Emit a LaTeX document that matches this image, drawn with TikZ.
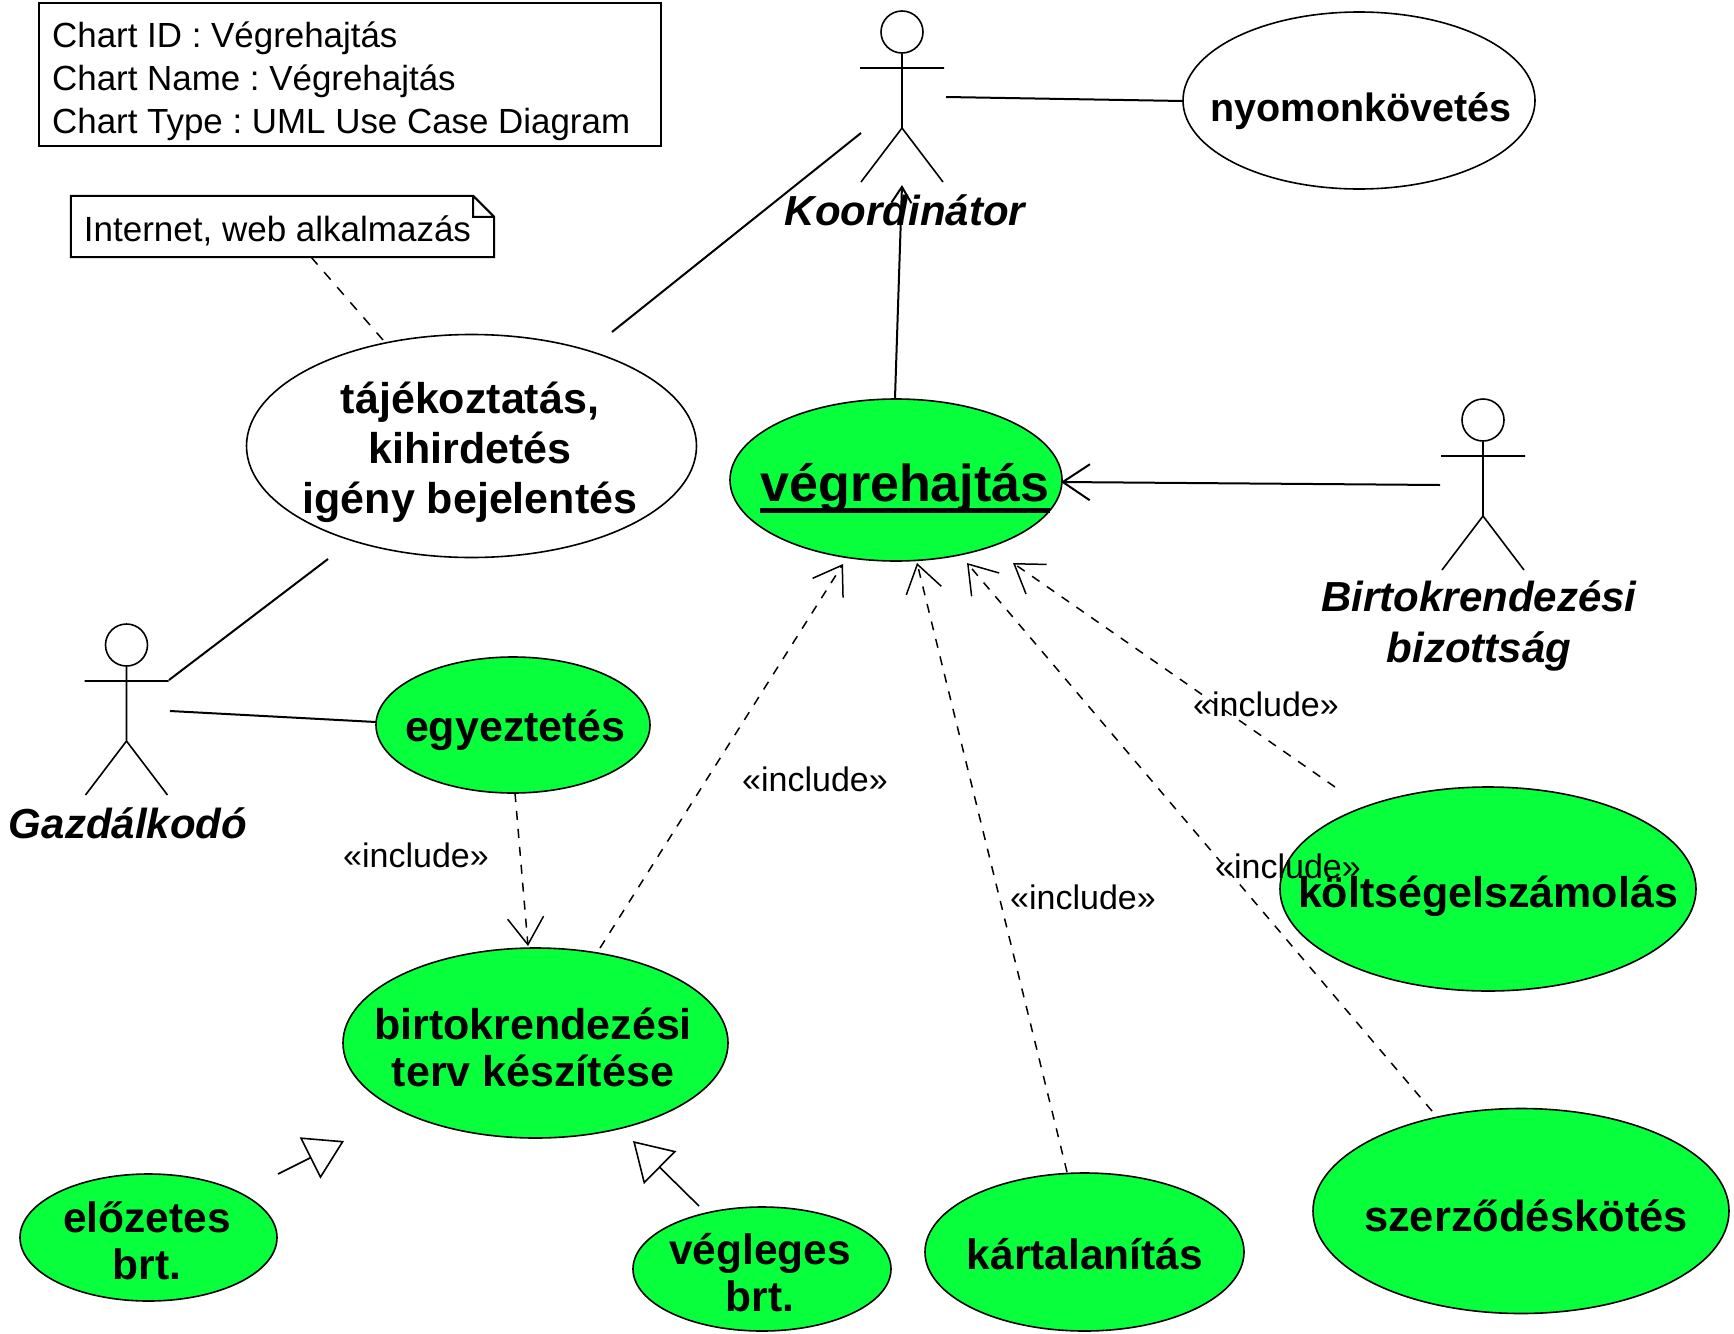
\documentclass[tikz,border=0pt]{standalone}
\usepackage{fontspec}
\setmainfont{Liberation Sans}
\usetikzlibrary{shapes.geometric,arrows.meta}
\definecolor{ucgreen}{RGB}{8,255,60}
\tikzset{
  ucwhite/.style={ellipse,draw=black,line width=1.6pt,fill=white,inner sep=0pt},
  ucgreen/.style={ellipse,draw=black,line width=1.6pt,fill=ucgreen,inner sep=0pt},
  uctext/.style={font=\bfseries\fontsize{42.5}{48}\selectfont,align=center,inner sep=0pt},
  actorhead/.style={circle,draw=black,line width=1.6pt,inner sep=0pt,minimum size=42pt},
  actorline/.style={line width=1.6pt},
  actortext/.style={font=\bfseries\itshape\fontsize{42}{51}\selectfont,align=center,inner sep=0pt},
  plaintext/.style={font=\fontsize{34}{43}\selectfont,inner sep=0pt},
  assoc/.style={line width=2pt},
  dep/.style={line width=1.5pt,dash pattern=on 9pt off 9pt,-{Straight Barb[length=27pt,width=36pt]}},
  nav/.style={line width=2pt,-{Straight Barb[length=27pt,width=36pt]}},
  navsmall/.style={line width=2pt,-{Straight Barb[length=16pt,width=20pt]}},
  gen/.style={line width=1.6pt,-{Triangle[open,length=38pt,width=46pt]}},
  notelink/.style={line width=1.5pt,dash pattern=on 10pt off 10pt},
}
\newcommand{\actorfig}[1]{%
  \draw[actorline] (#1.south) -- ([shift={(0,96)}]#1.center)
    ([shift={(-42,36)}]#1.center) -- ([shift={(42,36)}]#1.center)
    ([shift={(-41,150)}]#1.center) -- ([shift={(0,96)}]#1.center) -- ([shift={(41,150)}]#1.center);}
\begin{document}
\frenchspacing
\begin{tikzpicture}[x=1pt,y=-1pt]
\useasboundingbox[fill=white] (0,0) rectangle (1734,1333);
% chart info
\node[draw=black,line width=2pt,minimum width=622pt,minimum height=143pt,inner sep=0pt] (info) at (350,74.5) {};
\node[inner sep=0pt,anchor=west,align=left,font=\fontsize{34.9}{43}\selectfont] (infotext) at (52,81.5)
  {Chart ID : Végrehajtás\\Chart Name : Végrehajtás\\Chart Type : UML Use Case Diagram};
% note
\node[minimum width=423pt,minimum height=61pt,inner sep=0pt] (note) at (282.5,226.5) {};
\draw[line width=2pt,line join=miter]
  (note.north west) -- ([xshift=-21pt]note.north east) -- ([yshift=-21pt]note.north east) -- (note.south east) -- (note.south west) -- cycle
  ([xshift=-21pt]note.north east) -- ([xshift=-21pt,yshift=-21pt]note.north east) -- ([yshift=-21pt]note.north east);
\node[plaintext,font=\fontsize{35}{43}\selectfont] (notetext) at (277.5,231) {Internet, web alkalmazás};
% use cases
\node[ucwhite,minimum width=450pt,minimum height=223pt] (taj) at (471.5,446) {};
\node[ucwhite,minimum width=352pt,minimum height=177pt] (nyo) at (1359,100.5) {};
\node[ucgreen,minimum width=332pt,minimum height=162pt] (veg) at (896,480) {};
\node[ucgreen,minimum width=274pt,minimum height=136pt] (ege) at (513,725) {};
\node[ucgreen,minimum width=385pt,minimum height=190pt] (bir) at (535.5,1043) {};
\node[ucgreen,minimum width=257pt,minimum height=127pt] (elo) at (148.5,1237.5) {};
\node[ucgreen,minimum width=258pt,minimum height=124pt] (vgl) at (762,1269) {};
\node[ucgreen,minimum width=319pt,minimum height=158pt] (kar) at (1084.5,1252) {};
\node[ucgreen,minimum width=416pt,minimum height=204pt] (kol) at (1488,889) {};
\node[ucgreen,minimum width=416pt,minimum height=205pt] (sze) at (1521,1211) {};
% actors
\node[actorhead] (kord) at (902,32) {};
\node[actorhead] (bk) at (1483,420) {};
\node[actorhead] (gaz) at (126.5,645) {};
\actorfig{kord}
\actorfig{bk}
\actorfig{gaz}
% connectors
\draw[notelink] ([shift={(28.5,30.5)}]note.center) -- ([shift={(-88.5,-106)}]taj.center);
\draw[assoc] ([shift={(140.5,-114)}]taj.center) -- ([shift={(-41,101)}]kord.center);
\draw[assoc] ([shift={(42.5,35)}]gaz.center) -- ([shift={(-143.5,113)}]taj.center);
\draw[assoc] ([shift={(43.5,66)}]gaz.center) -- ([shift={(-137,-3)}]ege.center);
\draw[assoc] ([shift={(44,65)}]kord.center) -- ([shift={(-176,0.5)}]nyo.center);
\draw[navsmall] ([shift={(-1,-82)}]veg.center) -- ([shift={(0,153)}]kord.center);
\draw[nav] ([shift={(-43,65)}]bk.center) -- ([shift={(165,2)}]veg.center);
\draw[dep] ([shift={(2,68)}]ege.center) -- ([shift={(-7.5,-97)}]bir.center);
\draw[dep] ([shift={(64.5,-95)}]bir.center) -- ([shift={(-53,84)}]veg.center);
\draw[dep] ([shift={(-17.5,-80)}]kar.center) -- ([shift={(21,83)}]veg.center);
\draw[dep] ([shift={(-89,-100)}]sze.center) -- ([shift={(71,83)}]veg.center);
\draw[dep] ([shift={(-153,-102)}]kol.center) -- ([shift={(117,83)}]veg.center);
\draw[gen] ([shift={(129.5,-63.5)}]elo.center) -- ([shift={(-191.5,98)}]bir.center);
\draw[gen] ([shift={(-63,-63)}]vgl.center) -- ([shift={(97.5,98)}]bir.center);
% use case texts
\node[uctext,font=\bfseries\fontsize{43}{50}\selectfont] (tajt) at (470,452) {tájékoztatás,\\kihirdetés\\igény bejelentés};
\node[uctext,font=\bfseries\fontsize{39.5}{48}\selectfont] (nyot) at (1361,111) {nyomonkövetés};
\node[uctext,font=\bfseries\fontsize{52}{60}\selectfont] (vegt) at (905,488) {végrehajtás};
\draw[line width=4.5pt] ([yshift=-9pt]vegt.base west) -- ([yshift=-9pt]vegt.base east);
\node[uctext,font=\bfseries\fontsize{43}{48}\selectfont] (eget) at (515,730) {egyeztetés};
\node[uctext,font=\bfseries\fontsize{43}{47}\selectfont] (birt) at (533,1047) {birtokrendezési\\terv készítése};
\node[uctext,font=\bfseries\fontsize{42.5}{47}\selectfont] (elot) at (147,1241) {előzetes\\brt.};
\node[uctext,font=\bfseries\fontsize{42.5}{47}\selectfont] (vglt) at (760,1273) {végleges\\brt.};
\node[uctext] (kart) at (1085,1254) {kártalanítás};
\node[uctext,font=\bfseries\fontsize{43}{48}\selectfont] (kolt) at (1488,896) {költségelszámolás};
\node[uctext,font=\bfseries\fontsize{43.5}{48}\selectfont] (szet) at (1526,1216) {szerződéskötés};
% actor names
\node[actortext] (kordt) at (905,210) {Koordinátor};
\node[actortext] (bkt) at (1479,626) {Birtokrendezési\\bizottság};
\node[actortext] (gazt) at (128,823) {Gazdálkodó};
% stereotypes
\node[plaintext] (inc1) at (416,855) {«include»};
\node[plaintext] (inc2) at (815,779) {«include»};
\node[plaintext] (inc3) at (1083,897) {«include»};
\node[plaintext] (inc4) at (1266,704) {«include»};
\node[plaintext] (inc5) at (1288,866) {«include»};
\end{tikzpicture}
\end{document}
